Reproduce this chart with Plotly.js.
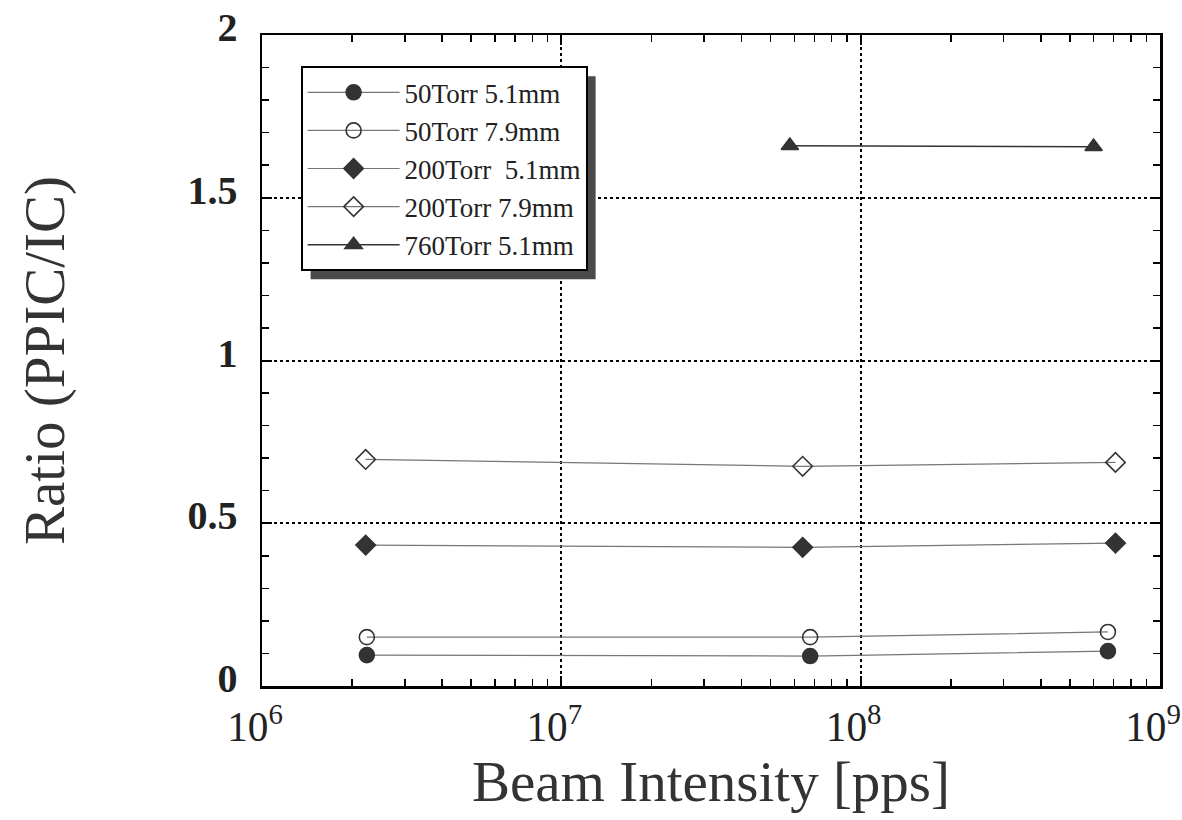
<!DOCTYPE html>
<html>
<head>
<meta charset="utf-8">
<script src="https://cdn.plot.ly/plotly-3.0.1.min.js"></script>
<style>html,body{margin:0;padding:0;background:#fff;}#chart{width:1182px;height:820px;}</style>
</head>
<body>
<div id="chart"></div>
<script>
// Data
const seriesNames = ["50Torr 5.1mm", "50Torr 7.9mm", "200Torr  5.1mm", "200Torr 7.9mm", "760Torr 5.1mm"];
const x50_51 = [2.24e6, 6.78e7, 6.7e8];
const y50_51 = [0.095, 0.092, 0.107];
const x50_79 = [2.24e6, 6.78e7, 6.7e8];
const y50_79 = [0.150, 0.150, 0.166];
const x200_51 = [2.22e6, 6.4e7, 7.1e8];
const y200_51 = [0.433, 0.426, 0.439];
const x200_79 = [2.22e6, 6.4e7, 7.1e8];
const y200_79 = [0.696, 0.675, 0.687];
const x760_51 = [5.8e7, 6.0e8];
const y760_51 = [1.66, 1.657];

// Axis tick values and labels (y)
const yTickVals = [0, 0.5, 1, 1.5, 2];
const yTickText = ["0", "0.5", "1", "1.5", "2"];

const serif = "'Liberation Serif','Times New Roman',Times,serif";
const mk = "#333";
const ln = "#777";

function tr(name, x, y, symbol, size, lineColor, lineWidth) {
  return {
    type: "scatter", mode: "lines+markers", name: name, x: x, y: y,
    line: {color: lineColor, width: lineWidth},
    marker: {symbol: symbol, size: size, color: mk, line: {color: mk, width: 1.6}}
  };
}

const data = [
  tr(seriesNames[0], x50_51, y50_51, "circle", 15, ln, 1.2),
  tr(seriesNames[1], x50_79, y50_79, "circle-open", 15, ln, 1.2),
  tr(seriesNames[2], x200_51, y200_51, "diamond", 15, ln, 1.2),
  tr(seriesNames[3], x200_79, y200_79, "diamond-open", 15, ln, 1.2),
  tr(seriesNames[4], x760_51, y760_51, "triangle-up", 15, "#333", 1.5)
];

const layout = {
  width: 1182, height: 820,
  margin: {l: 262, r: 22, t: 35, b: 134},
  paper_bgcolor: "#fff", plot_bgcolor: "#fff",
  showlegend: true,
  font: {family: serif, color: "#111"},
  xaxis: {
    type: "log", range: [6, 9], dtick: 1,
    exponentformat: "power",
    tickfont: {family: serif, size: 33, color: "#222"},
    ticklabeloverflow: "allow", ticklabelshift: -7, ticklabelstandoff: 5,
    ticks: "inside", ticklen: 10, tickwidth: 2, tickcolor: "#000",
    showline: true, linewidth: 2.5, linecolor: "#000", mirror: "allticks",
    showgrid: true, gridcolor: "#000", griddash: "dot", gridwidth: 2,
    minor: {ticks: "inside", ticklen: 7, tickwidth: 1.5, tickcolor: "#000", dtick: "D1", showgrid: false},
    zeroline: false,
    title: {text: "Beam Intensity [pps]", font: {family: serif, size: 57, color: "#333"}, standoff: 12}
  },
  yaxis: {
    range: [0, 2],
    tickmode: "array", tickvals: yTickVals, ticktext: yTickText,
    tickfont: {family: serif, size: 40, color: "#222", weight: "bold"},
    ticklabelstandoff: 14, ticklabelshift: -8,
    ticks: "inside", ticklen: 10, tickwidth: 2, tickcolor: "#000",
    showline: true, linewidth: 2.5, linecolor: "#000", mirror: "allticks",
    showgrid: true, gridcolor: "#000", griddash: "dot", gridwidth: 2,
    minor: {ticks: "inside", ticklen: 7, tickwidth: 1.5, tickcolor: "#000", dtick: 0.1, showgrid: false},
    zeroline: false,
    title: {text: "Ratio (PPIC/IC)", font: {family: serif, size: 57, color: "#333"}, standoff: 105}
  },
  legend: {
    x: 0.043, y: 0.952, xanchor: "left", yanchor: "top",
    bgcolor: "#fff", bordercolor: "#000", borderwidth: 2,
    font: {family: serif, size: 27, color: "#222"},
    tracegroupgap: 0, itemwidth: 92
  },
  shapes: []
};

Plotly.newPlot("chart", data, layout, {displayModeBar: false, staticPlot: true}).then(function (gd) {
  // drop shadow behind the legend box, placed from the rendered legend size
  const bg = gd.querySelector(".legend .bg");
  if (!bg) return;
  const r = bg.getBoundingClientRect();
  const c = gd.getBoundingClientRect();
  const fl = gd._fullLayout;
  const L = fl.margin.l, T = fl.margin.t, W = fl._size.w, H = fl._size.h;
  const off = 9;
  const toX = px => (px - c.left - L) / W;
  const toY = py => 1 - (py - c.top - T) / H;
  Plotly.relayout(gd, {
    shapes: [{
      type: "rect", xref: "paper", yref: "paper", layer: "above",
      x0: toX(r.left + off), x1: toX(r.right + off),
      y0: toY(r.bottom + off), y1: toY(r.top + off),
      fillcolor: "#4a4a4a", line: {width: 0}
    }]
  });
});
</script>
</body>
</html>
